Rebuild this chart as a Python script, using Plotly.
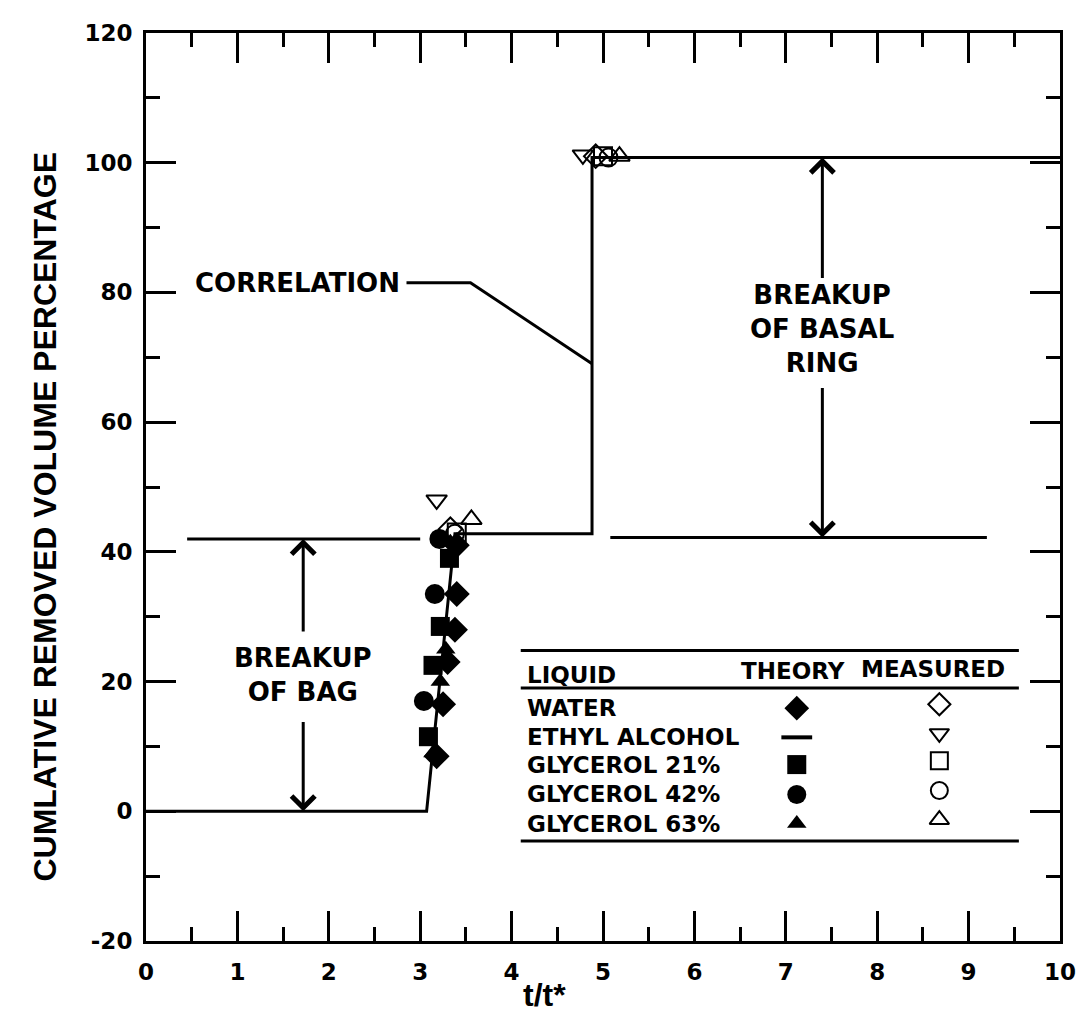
import plotly.graph_objects as go

# correlation curve (t/t*, cumulative removed volume %)
corr_x = [0, 3.07, 3.38, 4.88, 4.88, 10]
corr_y = [0, 0, 42.8, 42.8, 100.8, 100.8]

# reference levels for the breakup arrows
bag_ref_x = [0.45, 3.0]
bag_ref_y = [42.0, 42.0]
ring_ref_x = [5.08, 9.2]
ring_ref_y = [42.2, 42.2]

# theory (filled) points
water_th_x = [3.40, 3.40, 3.38, 3.30, 3.25, 3.18]
water_th_y = [41.0, 33.5, 28.0, 23.0, 16.5, 8.5]
gly21_th_x = [3.32, 3.22, 3.14, 3.09]
gly21_th_y = [39.0, 28.5, 22.5, 11.5]
gly42_th_x = [3.21, 3.16, 3.04]
gly42_th_y = [42.0, 33.5, 17.0]
gly63_th_x = [3.33, 3.28, 3.22, 3.14]
gly63_th_y = [41.5, 25.0, 20.0, 9.0]

# measured (open) points
water_me_x = [3.33, 4.92]
water_me_y = [43.5, 101.0]
ethyl_me_x = [3.18, 4.78]
ethyl_me_y = [48.0, 101.2]
gly21_me_x = [3.40, 5.00]
gly21_me_y = [43.0, 101.0]
gly42_me_x = [3.38, 5.06]
gly42_me_y = [42.8, 100.8]
gly63_me_x = [3.56, 5.18]
gly63_me_y = [45.0, 101.0]

# legend table
liquids = ["WATER", "ETHYL ALCOHOL", "GLYCEROL 21%", "GLYCEROL 42%", "GLYCEROL 63%"]
theory_symbols = ["diamond", "line-ew", "square", "circle", "triangle-up"]
measured_symbols = ["diamond-open", "triangle-down-open", "square-open", "circle-open", "triangle-up-open"]
row_y = [15.9, 11.4, 7.2, 2.6, -1.9]

x_ticks = list(range(0, 11))
y_ticks = list(range(-20, 121, 20))
y_ticktext = [str(v) for v in y_ticks]

FONT = "DejaVu Sans"
BLACK = "black"

fig = go.Figure()

# correlation + reference lines
fig.add_trace(go.Scatter(x=corr_x, y=corr_y, mode="lines",
                         line=dict(color=BLACK, width=3), hoverinfo="skip"))
for xs, ys in [(bag_ref_x, bag_ref_y), (ring_ref_x, ring_ref_y)]:
    fig.add_trace(go.Scatter(x=xs, y=ys, mode="lines",
                             line=dict(color=BLACK, width=3), hoverinfo="skip"))

# theory points
theory = [
    (water_th_x, water_th_y, "diamond", 20),
    (gly21_th_x, gly21_th_y, "square", 19),
    (gly42_th_x, gly42_th_y, "circle", 20),
    (gly63_th_x, gly63_th_y, "triangle-up", 17),
]
for xs, ys, sym, size in theory:
    fig.add_trace(go.Scatter(x=xs, y=ys, mode="markers",
                             marker=dict(symbol=sym, size=size, color=BLACK,
                                         opacity=1, line=dict(width=0))))

# measured points
measured = [
    (water_me_x, water_me_y, "diamond-open"),
    (ethyl_me_x, ethyl_me_y, "triangle-down-open"),
    (gly21_me_x, gly21_me_y, "square-open"),
    (gly42_me_x, gly42_me_y, "circle-open"),
    (gly63_me_x, gly63_me_y, "triangle-up-open"),
]
for xs, ys, sym in measured:
    fig.add_trace(go.Scatter(x=xs, y=ys, mode="markers",
                             marker=dict(symbol=sym, size=18, color=BLACK,
                                         line=dict(width=2, color=BLACK))))

# legend table glyphs
th_col = 7.12
me_col = 8.68
th_sizes = [19, 22, 19, 19, 17]
th_lw = [0, 4, 0, 0, 0]
for sym, size, lw, yy in zip(theory_symbols, th_sizes, th_lw, row_y):
    fig.add_trace(go.Scatter(x=[th_col], y=[yy], mode="markers",
                             marker=dict(symbol=sym, size=size, color=BLACK,
                                         opacity=1, line=dict(width=lw, color=BLACK)),
                             hoverinfo="skip"))
for sym, yy in zip(measured_symbols, row_y):
    fig.add_trace(go.Scatter(x=[me_col], y=[yy + 0.6], mode="markers",
                             marker=dict(symbol=sym, size=17, color=BLACK,
                                         line=dict(width=2, color=BLACK)),
                             hoverinfo="skip"))

table_left, table_right = 4.1, 9.55
for yy in [24.8, 19.0, -4.6]:
    fig.add_shape(type="line", x0=table_left, x1=table_right, y0=yy, y1=yy,
                  line=dict(color=BLACK, width=3))

annotations = []
txt = dict(family=FONT, size=23, color=BLACK, weight="bold")
annotations.append(dict(x=table_left + 0.05, y=21.0, text="LIQUID", showarrow=False,
                        xanchor="left", font=txt))
annotations.append(dict(x=th_col - 0.04, y=21.6, text="THEORY", showarrow=False,
                        font=txt))
annotations.append(dict(x=me_col - 0.07, y=21.9, text="MEASURED", showarrow=False,
                        font=txt))
for name, yy in zip(liquids, row_y):
    annotations.append(dict(x=table_left + 0.05, y=yy, text=name, showarrow=False,
                            xanchor="left", font=txt))

# correlation label with leader
big = dict(family=FONT, size=26, color=BLACK, weight="bold")
annotations.append(dict(x=2.8, y=81.5, text="CORRELATION", showarrow=False,
                        xanchor="right", font=big))
fig.add_trace(go.Scatter(x=[2.85, 3.55, corr_x[3]], y=[81.5, 81.5, 69.0],
                         mode="lines", line=dict(color=BLACK, width=3),
                         hoverinfo="skip"))

arrow = dict(xref="x", yref="y", axref="x", ayref="y", text="", showarrow=True,
             arrowhead=4, arrowsize=1.5, arrowwidth=3, arrowcolor=BLACK)

# breakup of bag
bag_x = 1.72
annotations.append(dict(x=bag_x, y=21, text="BREAKUP<br>OF BAG", showarrow=False,
                        font=big, align="center"))
annotations.append(dict(x=bag_x, y=bag_ref_y[0], ax=bag_x, ay=27.5, **arrow))
annotations.append(dict(x=bag_x, y=corr_y[0], ax=bag_x, ay=14.0, **arrow))

# breakup of basal ring
ring_x = 7.4
annotations.append(dict(x=ring_x, y=74.3, text="BREAKUP<br>OF BASAL<br>RING",
                        showarrow=False, font=big, align="center"))
annotations.append(dict(x=ring_x, y=corr_y[-1], ax=ring_x, ay=82.0, **arrow))
annotations.append(dict(x=ring_x, y=ring_ref_y[0], ax=ring_x, ay=65.5, **arrow))

# axis titles
title_font = dict(family="Liberation Sans", size=32, color=BLACK, weight="bold")
annotations.append(dict(xref="paper", yref="paper", x=-0.11, y=0.468,
                        xanchor="center", yanchor="middle",
                        text="CUMLATIVE REMOVED VOLUME PERCENTAGE", textangle=-90,
                        showarrow=False, font=title_font))
annotations.append(dict(xref="paper", yref="paper", x=0.436, y=-0.060,
                        xanchor="center", yanchor="middle",
                        text="t/t*", showarrow=False, font=title_font))

axis_common = dict(
    showgrid=False, zeroline=False, showline=True, linecolor=BLACK, linewidth=3,
    mirror="allticks", ticks="inside", ticklen=30, tickwidth=3, tickcolor=BLACK,
    tickfont=dict(family=FONT, size=23, color=BLACK, weight="bold"),
)

fig.update_layout(
    width=1082, height=1016,
    margin=dict(l=138, r=30, t=12, b=83),
    paper_bgcolor="white", plot_bgcolor="white",
    showlegend=False,
    annotations=annotations,
    xaxis=dict(range=[0, 10], tickvals=x_ticks, ticklabelstandoff=8,
               minor=dict(dtick=0.5, ticks="inside", ticklen=14, tickwidth=3,
                          tickcolor=BLACK),
               **axis_common),
    yaxis=dict(range=[-20, 120], tickvals=y_ticks, ticktext=y_ticktext,
               ticklabelstandoff=6,
               minor=dict(dtick=10, ticks="inside", ticklen=14, tickwidth=3,
                          tickcolor=BLACK),
               **axis_common),
)

fig.write_html("out.html")
